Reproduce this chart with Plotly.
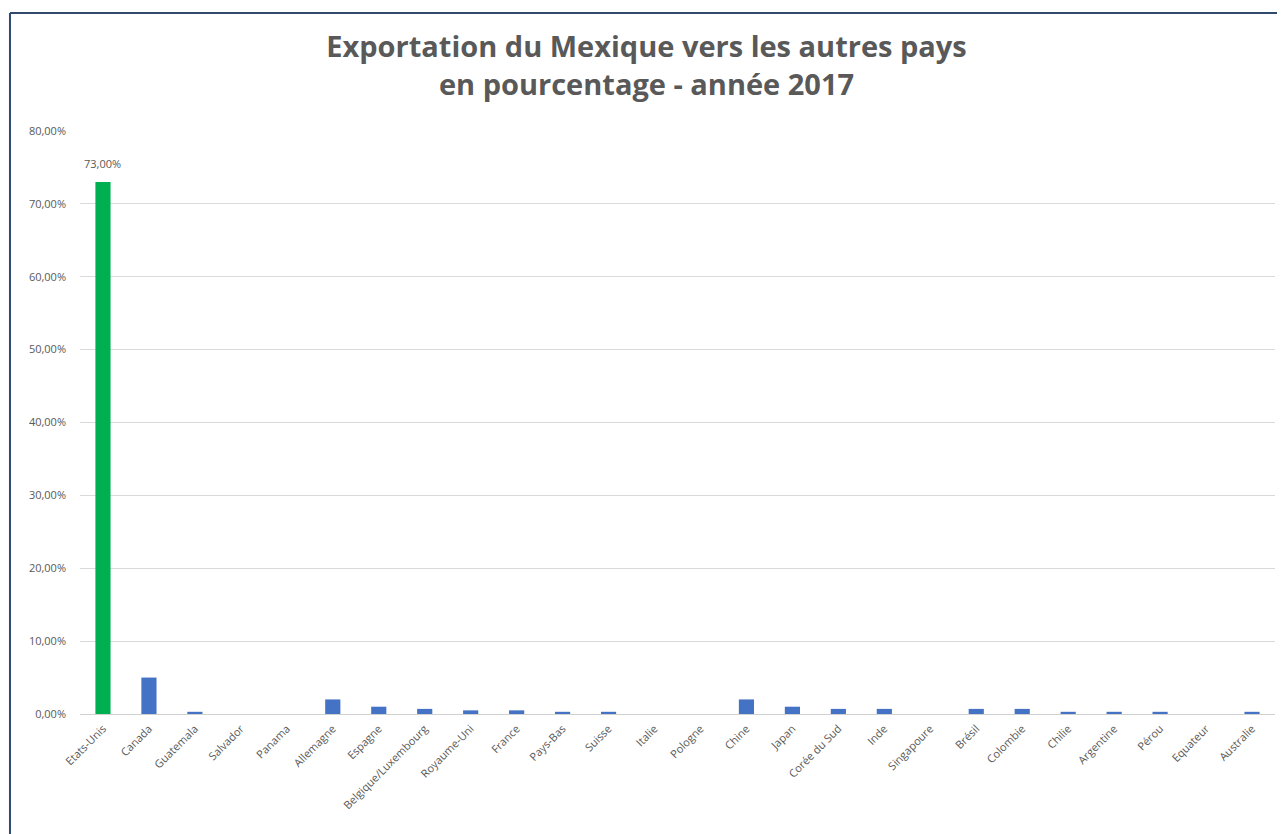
import plotly.graph_objects as go

countries = ["Etats-Unis", "Canada", "Guatemala", "Salvador", "Panama", "Allemagne", "Espagne",
             "Belgique/Luxembourg", "Royaume-Uni", "France", "Pays-Bas", "Suisse", "Italie", "Pologne",
             "Chine", "Japan", "Corée du Sud", "Inde", "Singapoure", "Brésil", "Colombie", "Chilie",
             "Argentine", "Pérou", "Equateur", "Australie"]
values = [73.0, 5.0, 0.3, 0.0, 0.0, 2.0, 1.0,
          0.7, 0.5, 0.5, 0.3, 0.3, 0.0, 0.0,
          2.0, 1.0, 0.7, 0.7, 0.0, 0.7, 0.7, 0.3,
          0.3, 0.3, 0.0, 0.3]
label_text = "73,00%"
colors = ["#00b050"] + ["#4472c4"] * (len(countries) - 1)
y_ticks = [0, 10, 20, 30, 40, 50, 60, 70, 80]
y_tick_text = [f"{v:.2f}".replace(".", ",") + "%" for v in y_ticks]

fig = go.Figure()
fig.add_trace(go.Bar(
    x=countries, y=values, marker=dict(color=colors, line=dict(width=0)),
    cliponaxis=False,
))

fig.add_annotation(
    x=countries[0], y=values[0], text=label_text, showarrow=False,
    yanchor="bottom", yshift=9,
    font=dict(family="Open Sans", size=11, color="#595959"),
)

fig.update_layout(
    width=1277, height=826,
    margin=dict(l=72, r=10, t=123, b=120, autoexpand=False),
    paper_bgcolor="white", plot_bgcolor="white",
    showlegend=False,
    bargap=0.67,
    title=dict(
        text="<b>Exportation du Mexique vers les autres pays<br>en pourcentage - année 2017</b>",
        x=0.5, xanchor="center", xref="container", yref="container", y=0.9407, yanchor="top",
        font=dict(family="Open Sans", size=29, color="#595959"),
        automargin=False,
    ),
    xaxis=dict(
        tickangle=-45, showgrid=False, showline=True, linecolor="#d0d0d0", linewidth=1,
        tickfont=dict(family="Open Sans", size=11, color="#595959"),
        ticks="", automargin=False, ticklabelstandoff=3,
    ),
    yaxis=dict(
        range=[0, 80], tickvals=y_ticks, ticktext=y_tick_text,
        showgrid=True, gridcolor="#d9d9d9", gridwidth=1, zeroline=False,
        tickfont=dict(family="Open Sans", size=11, color="#595959"),
        ticklabelstandoff=13, automargin=False,
    ),
    shapes=[
        dict(type="line", xref="paper", yref="paper", x0=-0.0586, x1=1.02, y0=1.2024, y1=1.2024,
             line=dict(color="#2f4a6d", width=2)),
        dict(type="line", xref="paper", yref="paper", x0=-0.0586, x1=-0.0586, y0=1.2024, y1=-0.25,
             line=dict(color="#2f4a6d", width=2)),
    ],
)

fig.write_html("out.html")
